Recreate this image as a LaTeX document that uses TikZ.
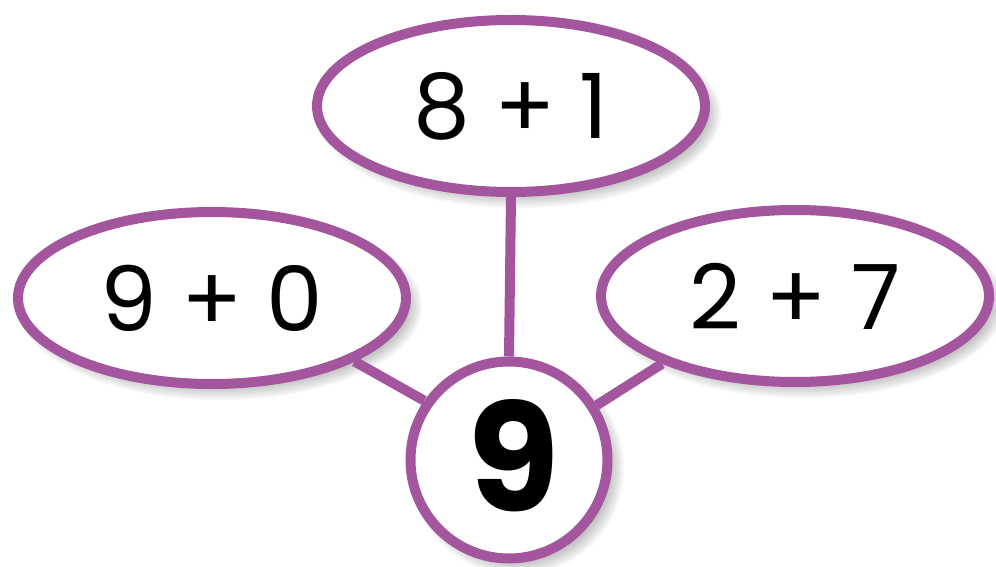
\documentclass[tikz,border=0pt]{standalone}
\usepackage{fontspec}
\setmainfont{Poppins}
\usetikzlibrary{shapes.geometric}
\definecolor{rim}{RGB}{163,86,158}
\newcommand{\softshade}[4]{%
  \foreach \k in {0,2,...,12} {
    \fill[black, opacity=0.035] (#1+8,#2+8) ellipse ({#3+\k} and {#4+\k});
  }}
\tikzset{
  x=1pt,y=-1pt,
  bubble/.style={ellipse, draw=rim, line width=10pt, fill=white, inner sep=0pt,
    minimum width=388pt, minimum height=172pt,
    font=\fontsize{90}{100}\selectfont},
  total/.style={circle, draw=rim, line width=10pt, fill=white, inner sep=0pt,
    minimum size=197pt},
  link/.style={draw=rim, line width=10pt}
}
\begin{document}
\begin{tikzpicture}
\useasboundingbox (0,0) rectangle (996,567);
\begin{scope}
\clip (0,0) rectangle (996,567);
\softshade{511}{106}{190}{82}
\softshade{212}{298}{190}{82}
\softshade{795}{296}{190}{82}
\softshade{509}{460}{95}{95}
\end{scope}
\node[bubble] (top) at (511,106) {8 + 1};
\node[bubble] (left) at (212,298) {9 + 0};
\node[bubble] (right) at (795,296) {2 + 7};
\node[total] (nine) at (509,460) {};
\node[font=\fontsize{150}{150}\selectfont\bfseries, inner sep=0pt] (ninetext) at (514,456) {9};
\draw[link] (top.south) -- (nine.north);
\draw[link] (left.-24) -- (nine.145);
\draw[link] (right.207) -- (nine.32);
\end{tikzpicture}
\end{document}
